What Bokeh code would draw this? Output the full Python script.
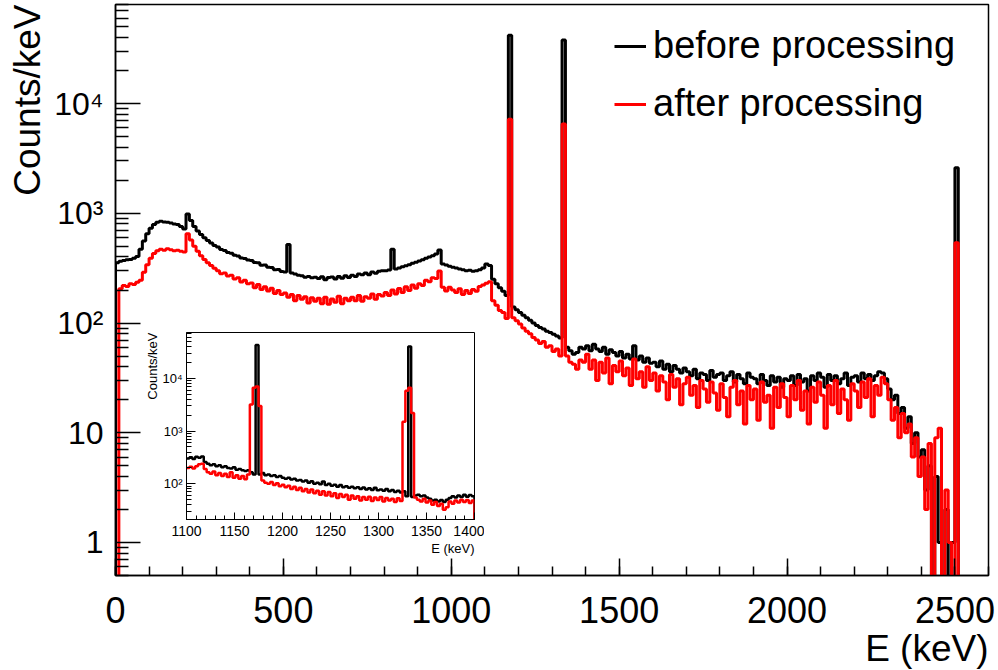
from bokeh.plotting import figure
from bokeh.models import Legend, LegendItem, Title, FixedTicker, Range1d
from bokeh.layouts import column
from bokeh.embed import file_html
from bokeh.resources import INLINE

FONT = "Liberation Sans"

# ---------------- data: main spectrum, 10 keV bins from 0 keV ----------------
MAIN_E0 = 0
MAIN_BIN = 10
before_main = [
    355, 365, 372, 378, 380, 390, 405, 470, 560, 650,
    730, 790, 830, 845, 835, 830, 815, 800, 790, 760,
    720, 985, 860, 760, 690, 640, 600, 565, 535, 510,
    492, 468, 458, 440, 432, 415, 408, 392, 388, 376,
    372, 356, 354, 336, 338, 322, 320, 306, 308, 295,
    292, 520, 285, 280, 272, 270, 262, 266, 258, 262,
    255, 264, 248, 260, 263, 252, 266, 256, 270, 260,
    272, 266, 280, 276, 286, 275, 292, 284, 296, 300,
    300, 305, 470, 310, 318, 325, 332, 340, 350, 358,
    368, 378, 390, 400, 410, 425, 462, 345, 338, 330,
    322, 318, 310, 306, 300, 302, 296, 300, 306, 318,
    345, 335, 250, 228, 210, 195, 178, 42000, 140, 132,
    125, 118, 112, 106, 100, 95, 91, 88, 84, 82,
    79, 76, 73, 38000, 60, 56, 52, 54, 60, 58,
    62, 56, 64, 58, 55, 60, 52, 57, 54, 50,
    55, 48, 52, 47, 62, 46, 50, 44, 48, 43,
    44, 40, 45, 38, 42, 36, 41, 38, 35, 39,
    36, 33, 38, 31, 35, 34, 30, 37, 32, 34,
    35, 30, 33, 36, 29, 34, 31, 28, 35, 32,
    31, 28, 34, 30, 27, 33, 29, 32, 26, 31,
    30, 33, 27, 34, 29, 31, 24, 33, 30, 35,
    32, 26, 34, 30, 33, 28, 31, 35, 27, 32,
    33, 29, 35, 31, 34, 30, 33, 36, 35, 31,
    25, 20, 22, 15, 17, 11, 14, 8, 10, 6,
    7, 3, 5, 0, 4, 1, 0, 2, 0, 1,
    2600, 0, 0, 0, 0, 0, 0, 0, 0, 0,
]
after_main = [
    0, 205, 220, 215, 228, 225, 235, 245, 290, 340,
    390, 430, 455, 470, 460, 475, 465, 455, 460, 450,
    445, 650, 570, 500, 450, 410, 380, 355, 335, 315,
    300, 282, 285, 268, 272, 252, 258, 236, 245, 228,
    232, 210, 224, 202, 214, 196, 208, 186, 198, 182,
    188, 172, 182, 160, 178, 165, 174, 152, 170, 158,
    168, 150, 172, 148, 166, 155, 175, 150, 168, 160,
    172, 160, 178, 158, 174, 168, 184, 165, 182, 176,
    190, 178, 200, 184, 206, 190, 214, 198, 222, 208,
    228, 220, 245, 238, 258, 255, 298, 212, 196, 212,
    200, 190, 205, 182, 198, 186, 202, 195, 215, 222,
    230, 238, 160, 145, 130, 125, 110, 7200, 112, 105,
    98, 90, 84, 80, 74, 70, 65, 68, 60, 62,
    55, 58, 50, 6500, 50, 44, 42, 38, 46, 44,
    52, 38, 46, 30, 44, 35, 48, 28, 41, 36,
    45, 33, 39, 27, 47, 31, 36, 26, 40, 30,
    35, 24, 33, 29, 20, 34, 26, 31, 18, 28,
    32, 22, 27, 17, 30, 25, 19, 29, 23, 16,
    28, 21, 14, 26, 30, 18, 24, 12, 27, 20,
    25, 13, 29, 19, 22, 11, 26, 17, 28, 21,
    14, 27, 20, 30, 16, 24, 12, 26, 19, 29,
    22, 11, 27, 18, 30, 15, 25, 20, 13, 28,
    24, 17, 29, 21, 31, 14, 27, 22, 32, 28,
    20, 13, 17, 9, 15, 10, 12, 6, 9, 4,
    6, 2, 8, 0, 9, 11, 0, 3, 1, 0,
    540, 0, 0, 0, 0, 0, 0, 0, 0, 0,
]

# ---------------- data: inset, 3 keV bins from 1100 keV ----------------
INSET_E0 = 1100
INSET_BIN = 3
before_inset = [
    300, 320, 295, 325, 310, 330, 260, 240, 225, 235,
    215, 225, 205, 215, 200, 195, 205, 185, 190, 180,
    175, 180, 165, 150, 43000, 150, 160, 145, 150, 140,
    145, 135, 140, 130, 125, 130, 120, 125, 115, 118,
    110, 115, 105, 112, 100, 105, 98, 110, 95, 100,
    92, 96, 88, 95, 86, 90, 84, 88, 82, 86,
    80, 85, 78, 82, 76, 84, 75, 78, 74, 80,
    72, 76, 70, 74, 68, 72, 58, 40000, 56, 60,
    62, 58, 60, 55, 52, 48, 50, 46, 49, 45,
    50, 54, 58, 55, 60, 56, 62, 57, 61, 58,
]
after_inset = [
    200, 210, 195, 215, 235, 240, 190, 165, 155, 170,
    145, 160, 140, 155, 135, 165, 130, 145, 125, 140,
    122, 150, 3200, 6600, 7000, 3000, 115, 105, 100, 108,
    95, 102, 90, 96, 86, 92, 80, 88, 76, 84,
    72, 80, 68, 78, 66, 74, 62, 72, 60, 70,
    58, 66, 54, 64, 56, 62, 50, 60, 52, 58,
    48, 56, 50, 57, 47, 55, 49, 56, 46, 54,
    48, 52, 45, 53, 47, 1500, 5800, 6600, 2200, 55,
    50, 46, 52, 44, 48, 40, 45, 38, 42, 32,
    36, 46, 42, 48, 44, 50, 45, 49, 43, 48,
]

y_ticks = [1, 10, 100, 1000, 10000]
y_tick_labels = ["1", "10", "10\u00b2", "10\u00b3", "10\u2074"]
main_x_ticks = [0, 500, 1000, 1500, 2000, 2500]
inset_x_ticks = [1100, 1150, 1200, 1250, 1300, 1350, 1400]
inset_y_ticks = [100, 1000, 10000]
inset_y_labels = ["10\u00b2", "10\u00b3", "10\u2074"]
legend_labels = ["before processing", "after processing"]


def step_xy(e0, w, vals, floor, from_floor=True):
    xs = [e0] + [e0 + w * i for i in range(len(vals) + 1)]
    clean = [v if v > 0 else floor for v in vals]
    first = floor if from_floor else clean[0]
    ys = [first] + clean + [floor]
    return xs, ys


def log_minor(lo_exp, hi_exp):
    return [m * 10.0 ** k for k in range(lo_exp, hi_exp + 1) for m in range(2, 10)]


# ---------------- main figure ----------------
p = figure(width=998, height=670, x_range=Range1d(0, 2600), y_range=Range1d(0.5, 8e4),
           y_axis_type="log", output_backend="svg", toolbar_location=None,
           min_border_left=115, min_border_right=10, min_border_top=4, min_border_bottom=95)
p.grid.visible = False
p.outline_line_color = "black"
p.outline_line_width = 1.5
p.background_fill_color = "white"
p.border_fill_color = "white"

xb, yb = step_xy(MAIN_E0, MAIN_BIN, before_main, 0.3)
xr, yr = step_xy(MAIN_E0, MAIN_BIN, after_main, 0.3)
rb = p.step(xb, yb, mode="after", line_color="black", line_width=3)
rr = p.step(xr, yr, mode="after", line_color="red", line_width=3)

p.xaxis.ticker = FixedTicker(ticks=main_x_ticks, minor_ticks=list(range(0, 2601, 100)))
p.yaxis.ticker = FixedTicker(ticks=y_ticks, minor_ticks=log_minor(-1, 4))
p.yaxis.major_label_overrides = {t: s for t, s in zip(y_ticks, y_tick_labels)}
for ax in (p.xaxis[0], p.yaxis[0]):
    ax.axis_line_color = "black"
    ax.axis_line_width = 1.5
    ax.major_tick_out = 0
    ax.minor_tick_out = 0
    ax.major_tick_line_width = 1.5
    ax.minor_tick_line_width = 1.5
    ax.major_tick_line_color = "black"
    ax.minor_tick_line_color = "black"
    ax.major_label_text_font = FONT
    ax.major_label_text_color = "black"
p.xaxis.major_tick_in = 17
p.xaxis.minor_tick_in = 9
p.yaxis.major_tick_in = 25
p.yaxis.minor_tick_in = 13
p.xaxis.major_label_text_font_size = "36px"
p.yaxis.major_label_text_font_size = "32px"
p.xaxis.major_label_standoff = 21
p.yaxis.major_label_standoff = 12

p.add_layout(Title(text="E (keV)", align="right", text_font=FONT, text_font_size="37px",
                   text_color="black", text_font_style="normal", standoff=0), "below")
p.add_layout(Title(text="Counts/keV", align="right", text_font=FONT, text_font_size="37px",
                   text_color="black", text_font_style="normal", standoff=7), "left")

leg = Legend(items=[LegendItem(label=legend_labels[0], renderers=[rb]),
                    LegendItem(label=legend_labels[1], renderers=[rr])],
             location=(499, 450), label_text_font=FONT, label_text_font_size="38px",
             label_text_color="black",
             glyph_width=32, glyph_height=40, label_standoff=7, spacing=15,
             padding=0, margin=0, border_line_alpha=0, background_fill_alpha=0)
p.add_layout(leg)

# ---------------- inset figure ----------------
# (in a column Bokeh aligns the left/right borders with the main figure: 115 / 10)
q = figure(width=413, height=232, x_range=Range1d(1100, 1400), y_range=Range1d(21, 7.4e4),
           y_axis_type="log", output_backend="svg", toolbar_location=None,
           min_border_left=115, min_border_right=10, min_border_top=5, min_border_bottom=40)
q.styles = {"position": "absolute", "left": "71px", "top": "327px",
            "width": "413px", "height": "232px"}
q.grid.visible = False
q.outline_line_color = "black"
q.outline_line_width = 1
q.background_fill_color = "white"
q.border_fill_color = None

xbi, ybi = step_xy(INSET_E0, INSET_BIN, before_inset, 10, from_floor=False)
xri, yri = step_xy(INSET_E0, INSET_BIN, after_inset, 10, from_floor=False)
q.step(xbi, ybi, mode="after", line_color="black", line_width=2.5)
q.step(xri, yri, mode="after", line_color="red", line_width=2.5)

q.xaxis.ticker = FixedTicker(ticks=inset_x_ticks, minor_ticks=list(range(1100, 1401, 10)))
q.yaxis.ticker = FixedTicker(ticks=inset_y_ticks, minor_ticks=log_minor(1, 4))
q.yaxis.major_label_overrides = {t: s for t, s in zip(inset_y_ticks, inset_y_labels)}
for ax in (q.xaxis[0], q.yaxis[0]):
    ax.axis_line_color = "black"
    ax.major_tick_out = 0
    ax.minor_tick_out = 0
    ax.major_tick_line_color = "black"
    ax.minor_tick_line_color = "black"
    ax.major_label_text_font = FONT
    ax.major_label_text_color = "black"
    ax.major_label_text_font_size = "13px"
q.xaxis.major_label_text_font_size = "14px"
q.xaxis.major_tick_in = 7
q.xaxis.minor_tick_in = 4
q.yaxis.major_tick_in = 9
q.yaxis.minor_tick_in = 5
q.xaxis.major_label_standoff = 6
q.yaxis.major_label_standoff = 4
q.add_layout(Title(text="E (keV)", align="right", text_font=FONT, text_font_size="13px",
                   text_color="black", text_font_style="normal", standoff=0), "below")
q.add_layout(Title(text="Counts/keV", align="right", text_font=FONT, text_font_size="13px",
                   text_color="black", text_font_style="normal", standoff=0), "left")

layout = column(p, q)
open("out.html", "w").write(file_html(layout, INLINE))
